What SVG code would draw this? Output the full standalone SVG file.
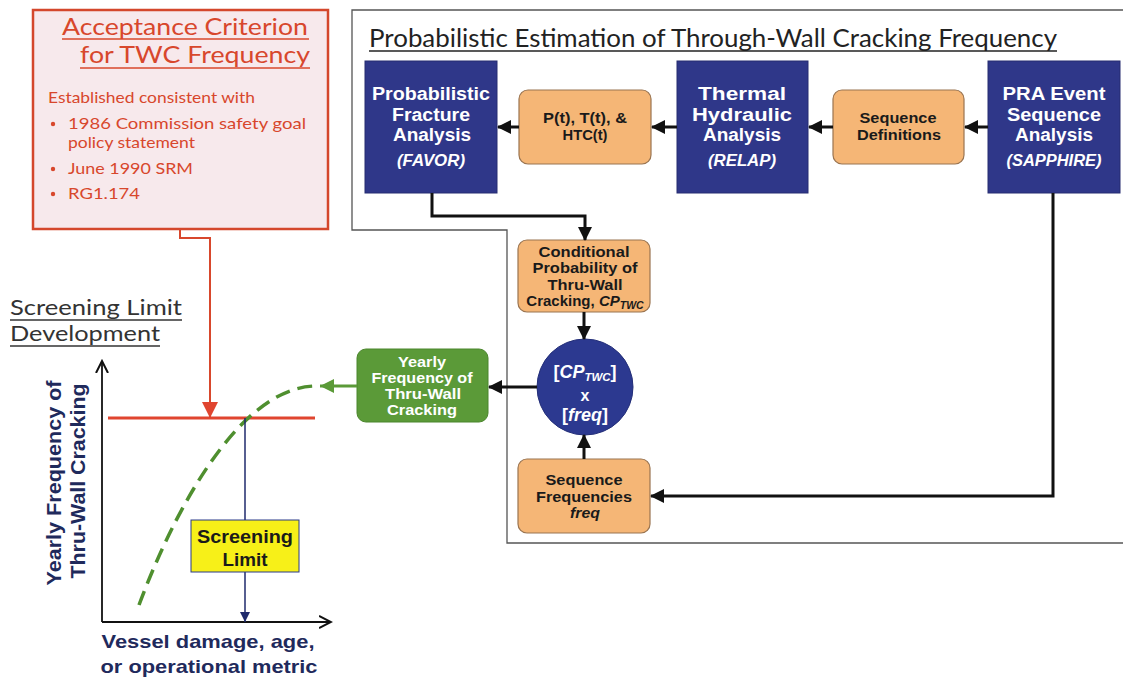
<svg xmlns="http://www.w3.org/2000/svg" width="1123" height="680" viewBox="0 0 1123 680">
<style>
.ttl{font-family:Lato,"Open Sans","DejaVu Sans",sans-serif;}
.b{font-family:"Liberation Sans",Arial,sans-serif;font-weight:bold;text-anchor:middle;}
.w{fill:#ffffff;}
.k{fill:#1a1a1a;}
.nv{fill:#1f2a5c;}
.i{font-style:italic;}
.blue{fill:#2f3789;stroke:#262d70;stroke-width:1;}
.org{fill:#f5b676;stroke:#9a7450;stroke-width:1.2;}
.con{fill:none;stroke:#111;stroke-width:3;}
.red{fill:#d8472c;}
</style>
<defs>
<marker id="ah" markerUnits="userSpaceOnUse" markerWidth="14" markerHeight="14" refX="13" refY="7" orient="auto">
<path d="M0,0 L14,7 L0,14 z" fill="#111"/>
</marker>
<marker id="ahr" markerUnits="userSpaceOnUse" markerWidth="16" markerHeight="16" refX="16" refY="8" orient="auto">
<path d="M0,0 L16,8 L0,16 z" fill="#e0452f"/>
</marker>
<marker id="ahg" markerUnits="userSpaceOnUse" markerWidth="14" markerHeight="14" refX="14" refY="7" orient="auto">
<path d="M0,0 L14,7 L0,14 z" fill="#5b9a38"/>
</marker>
<marker id="ahn" markerUnits="userSpaceOnUse" markerWidth="10" markerHeight="10" refX="10" refY="5" orient="auto">
<path d="M0,0 L10,5 L0,10 z" fill="#1f2a6c"/>
</marker>
<marker id="ahk" markerUnits="userSpaceOnUse" markerWidth="14" markerHeight="14" refX="12" refY="7" orient="auto">
<path d="M0,1 L12,7 L0,13" fill="none" stroke="#111" stroke-width="2"/>
</marker>
</defs>
<rect width="1123" height="680" fill="#ffffff"/>

<!-- container outline -->
<path d="M1123,10 H352 V230 H507 V543 H1123" fill="none" stroke="#555" stroke-width="1.3"/>

<g id="main-title">
<text class="ttl" x="369" y="47" font-size="25" fill="#222" textLength="688" lengthAdjust="spacingAndGlyphs">Probabilistic Estimation of Through-Wall Cracking Frequency</text>
<line x1="369" y1="51" x2="1057" y2="51" stroke="#222" stroke-width="1.5"/>
</g>

<g id="acceptance">
<rect x="33" y="10" width="295" height="219" fill="#f7e9ec" stroke="#d4472c" stroke-width="2.5"/>
<text class="ttl" x="62" y="35" font-size="24" fill="#d8472c" textLength="246" lengthAdjust="spacingAndGlyphs">Acceptance Criterion</text>
<line x1="62" y1="39" x2="309" y2="39" stroke="#d8472c" stroke-width="1.5"/>
<text class="ttl" x="80" y="63" font-size="24" fill="#d8472c" textLength="230" lengthAdjust="spacingAndGlyphs">for TWC Frequency</text>
<line x1="80" y1="68" x2="310" y2="68" stroke="#d8472c" stroke-width="1.5"/>
<g class="ttl red" font-size="15">
<text x="48" y="103" textLength="207" lengthAdjust="spacingAndGlyphs">Established consistent with</text>
<text x="68" y="129" textLength="238" lengthAdjust="spacingAndGlyphs">1986 Commission safety goal</text>
<text x="68" y="148" textLength="127" lengthAdjust="spacingAndGlyphs">policy statement</text>
<text x="68" y="174" textLength="125" lengthAdjust="spacingAndGlyphs">June 1990 SRM</text>
<text x="68" y="199" textLength="72" lengthAdjust="spacingAndGlyphs">RG1.174</text>
</g>
<circle cx="53" cy="124" r="2.2" fill="#d8472c"/>
<circle cx="53" cy="169" r="2.2" fill="#d8472c"/>
<circle cx="53" cy="194" r="2.2" fill="#d8472c"/>
</g>

<g id="favor">
<rect class="blue" x="365" y="61" width="132" height="132"/>
<text class="b w" x="431" y="100" font-size="18" textLength="118" lengthAdjust="spacingAndGlyphs">Probabilistic</text>
<text class="b w" x="431" y="121" font-size="18" textLength="78" lengthAdjust="spacingAndGlyphs">Fracture</text>
<text class="b w" x="432" y="141" font-size="18" textLength="78" lengthAdjust="spacingAndGlyphs">Analysis</text>
<text class="b w i" x="431" y="166" font-size="16" textLength="68" lengthAdjust="spacingAndGlyphs">(FAVOR)</text>
</g>

<g id="pt">
<rect class="org" x="519" y="90" width="132" height="74" rx="9"/>
<text class="b k" x="585" y="123" font-size="15" textLength="84" lengthAdjust="spacingAndGlyphs">P(t), T(t), &amp;</text>
<text class="b k" x="585" y="140" font-size="15" textLength="45" lengthAdjust="spacingAndGlyphs">HTC(t)</text>
</g>

<g id="relap">
<rect class="blue" x="677" y="61" width="131" height="132"/>
<text class="b w" x="742" y="100" font-size="18" textLength="88" lengthAdjust="spacingAndGlyphs">Thermal</text>
<text class="b w" x="742" y="121" font-size="18" textLength="100" lengthAdjust="spacingAndGlyphs">Hydraulic</text>
<text class="b w" x="742" y="141" font-size="18" textLength="78" lengthAdjust="spacingAndGlyphs">Analysis</text>
<text class="b w i" x="742" y="166" font-size="16" textLength="68" lengthAdjust="spacingAndGlyphs">(RELAP)</text>
</g>

<g id="seqdef">
<rect class="org" x="833" y="90" width="131" height="74" rx="9"/>
<text class="b k" x="898" y="123" font-size="15" textLength="77" lengthAdjust="spacingAndGlyphs">Sequence</text>
<text class="b k" x="899" y="140" font-size="15" textLength="84" lengthAdjust="spacingAndGlyphs">Definitions</text>
</g>

<g id="pra">
<rect class="blue" x="988" y="61" width="132" height="132"/>
<text class="b w" x="1054" y="100" font-size="18" textLength="103" lengthAdjust="spacingAndGlyphs">PRA Event</text>
<text class="b w" x="1054" y="121" font-size="18" textLength="94" lengthAdjust="spacingAndGlyphs">Sequence</text>
<text class="b w" x="1054" y="141" font-size="18" textLength="78" lengthAdjust="spacingAndGlyphs">Analysis</text>
<text class="b w i" x="1054" y="166" font-size="16" textLength="95" lengthAdjust="spacingAndGlyphs">(SAPPHIRE)</text>
</g>

<g id="conditional">
<rect class="org" x="518" y="240" width="132" height="72" rx="9"/>
<text class="b k" x="584" y="257" font-size="14.5" textLength="91" lengthAdjust="spacingAndGlyphs">Conditional</text>
<text class="b k" x="585" y="273" font-size="14.5" textLength="105" lengthAdjust="spacingAndGlyphs">Probability of</text>
<text class="b k" x="585" y="290" font-size="14.5" textLength="75" lengthAdjust="spacingAndGlyphs">Thru-Wall</text>
<text class="b k" x="585" y="306" font-size="15">Cracking, <tspan class="i">CP</tspan><tspan class="i" font-size="10.5" dy="3">TWC</tspan></text>
</g>

<g id="product">
<circle cx="585" cy="387" r="48" fill="#2c3990" stroke="#232e78" stroke-width="1"/>
<text class="b w" x="585" y="378" font-size="18">[<tspan class="i">CP</tspan><tspan class="i" font-size="11.5" dy="3">TWC</tspan><tspan dy="-3">]</tspan></text>
<text class="b w" x="585" y="401" font-size="16">x</text>
<text class="b w" x="585" y="421" font-size="18">[<tspan class="i">freq</tspan>]</text>
</g>

<g id="seqfreq">
<rect class="org" x="518" y="459" width="132" height="74" rx="9"/>
<text class="b k" x="584" y="485" font-size="15" textLength="77" lengthAdjust="spacingAndGlyphs">Sequence</text>
<text class="b k" x="584" y="502" font-size="15" textLength="96" lengthAdjust="spacingAndGlyphs">Frequencies</text>
<text class="b k i" x="585" y="518" font-size="15" textLength="30" lengthAdjust="spacingAndGlyphs">freq</text>
</g>

<g id="yearly">
<rect x="357" y="349" width="131" height="73" rx="9" fill="#5b9a38" stroke="#4b862c" stroke-width="1"/>
<text class="b w" x="422" y="367" font-size="14.5" textLength="48" lengthAdjust="spacingAndGlyphs">Yearly</text>
<text class="b w" x="422" y="383" font-size="14.5" textLength="101" lengthAdjust="spacingAndGlyphs">Frequency of</text>
<text class="b w" x="423" y="399" font-size="14.5" textLength="76" lengthAdjust="spacingAndGlyphs">Thru-Wall</text>
<text class="b w" x="422" y="415" font-size="14.5" textLength="70" lengthAdjust="spacingAndGlyphs">Cracking</text>
</g>

<g id="screening-title">
<text class="ttl" x="10" y="315" font-size="22" fill="#333" textLength="172" lengthAdjust="spacingAndGlyphs">Screening Limit</text>
<line x1="10" y1="320" x2="182" y2="320" stroke="#333" stroke-width="1.3"/>
<text class="ttl" x="10" y="341" font-size="22" fill="#333" textLength="150" lengthAdjust="spacingAndGlyphs">Development</text>
<line x1="10" y1="346" x2="160" y2="346" stroke="#333" stroke-width="1.3"/>
</g>

<g id="chart">
<path d="M102,622 V361" fill="none" stroke="#111" stroke-width="1.8" marker-end="url(#ahk)"/>
<path d="M102,622 H331" fill="none" stroke="#111" stroke-width="1.8" marker-end="url(#ahk)"/>
<line x1="108" y1="418" x2="315" y2="418" stroke="#e0452f" stroke-width="3"/>
<path d="M139,605 C169,524 235,388 315,386" fill="none" stroke="#4f8f2f" stroke-width="3.5" stroke-dasharray="15,8"/>
<g transform="translate(61,483) rotate(-90)">
<text class="b nv" x="0" y="0" font-size="20" textLength="205" lengthAdjust="spacingAndGlyphs">Yearly Frequency of</text>
<text class="b nv" x="2" y="24" font-size="20" textLength="195" lengthAdjust="spacingAndGlyphs">Thru-Wall Cracking</text>
</g>
<text class="b nv" x="208" y="648" font-size="19" textLength="213" lengthAdjust="spacingAndGlyphs">Vessel damage, age,</text>
<text class="b nv" x="209" y="673" font-size="19" textLength="217" lengthAdjust="spacingAndGlyphs">or operational metric</text>
</g>

<g id="connectors">
<path class="con" d="M677,127 H652" marker-end="url(#ah)"/>
<path class="con" d="M519,127 H498" marker-end="url(#ah)"/>
<path class="con" d="M988,127 H965" marker-end="url(#ah)"/>
<path class="con" d="M833,127 H809" marker-end="url(#ah)"/>
<path class="con" d="M432,193 V216 H585 V240" marker-end="url(#ah)"/>
<path class="con" d="M584,312 V339" marker-end="url(#ah)"/>
<path class="con" d="M584,459 V435" marker-end="url(#ah)"/>
<path class="con" d="M1053,193 V496 H651" marker-end="url(#ah)"/>
<path class="con" d="M537,387 H489" marker-end="url(#ah)"/>
<path d="M357,386 H320" fill="none" stroke="#5b9a38" stroke-width="3" marker-end="url(#ahg)"/>
<path d="M180,229 V238 H210 V418" fill="none" stroke="#d8472c" stroke-width="2" marker-end="url(#ahr)"/>
<path d="M245,418 V622" fill="none" stroke="#1f2a6c" stroke-width="1.5" marker-end="url(#ahn)"/>
</g>

<g id="screening-limit">
<rect x="191" y="520" width="108" height="52" fill="#f7f018" stroke="#2b3a8a" stroke-width="1"/>
<text class="b k" x="245" y="543" font-size="18" fill="#1a1a3a" textLength="96" lengthAdjust="spacingAndGlyphs">Screening</text>
<text class="b k" x="245" y="566" font-size="18" textLength="45" lengthAdjust="spacingAndGlyphs">Limit</text>
</g>
</svg>
